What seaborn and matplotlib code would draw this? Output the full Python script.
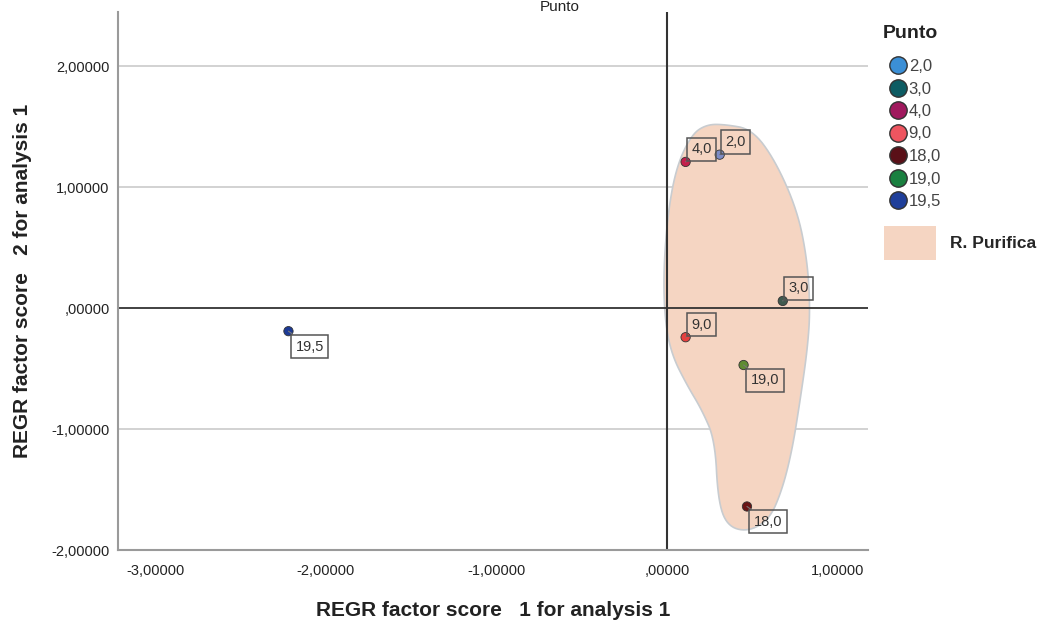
import numpy as np
import pandas as pd
import matplotlib
matplotlib.use("Agg")
import matplotlib.pyplot as plt
from matplotlib.lines import Line2D
from matplotlib.patches import Polygon, Patch
import seaborn as sns

# ---- data ----
labels = ["2,0", "3,0", "4,0", "9,0", "18,0", "19,0", "19,5"]
factor1 = [0.31, 0.68, 0.11, 0.11, 0.47, 0.45, -2.22]
factor2 = [1.27, 0.06, 1.21, -0.24, -1.64, -0.47, -0.19]
point_colors = ["#7d8cc6", "#3f5a4f", "#c4204c", "#e8403e", "#6a1414", "#5f8c32", "#1c3a96"]
legend_colors = ["#3b8fd6", "#0d5c63", "#a0195e", "#ee5560", "#5a1018", "#1a8040", "#1f3f9a"]
label_dir = ["ur", "ur", "ur", "ur", "dr", "dr", "dr"]
# region outline "R. Purifica" (data coords)
hull_x = [0.341, 0.50, 0.635, 0.765, 0.824, 0.841, 0.824, 0.782, 0.735, 0.676, 0.60, 0.471,
          0.353, 0.30, 0.282, 0.206, 0.118, 0.029, -0.012, -0.02, 0.008, 0.059, 0.147, 0.235]
hull_y = [1.52, 1.48, 1.223, 0.81, 0.397, -0.017, -0.347, -0.76, -1.174, -1.504, -1.752, -1.85,
          -1.80, -1.587, -1.091, -0.843, -0.636, -0.388, -0.099, 0.314, 0.81, 1.182, 1.44, 1.52]
xticks = [-3, -2, -1, 0, 1]
yticks = [-2, -1, 0, 1, 2]


def fmt(v):
    s = ("%.5f" % v).replace(".", ",")
    return s[1:] if s.startswith("0,") else s


df = pd.DataFrame({"f1": factor1, "f2": factor2, "Punto": labels})

sns.set_theme(style="white")
plt.rcParams["font.family"] = ["Liberation Sans", "DejaVu Sans"]

fig = plt.figure(figsize=(10.48, 6.23), dpi=100)
ax = fig.add_axes([118/1048, 73/623, 750/1048, 538/623])

ax.set_xlim(-3.22, 1.18)
ax.set_ylim(-2.0, 2.45)

# smooth hull (Chaikin)
pts = np.column_stack([hull_x, hull_y])
for _ in range(3):
    nxt = np.roll(pts, -1, axis=0)
    q = 0.75 * pts + 0.25 * nxt
    r = 0.25 * pts + 0.75 * nxt
    pts = np.empty((2 * len(q), 2))
    pts[0::2] = q
    pts[1::2] = r
ax.add_patch(Polygon(pts, closed=True, facecolor="#f5d5c2", edgecolor="#c8ccd0",
                     linewidth=1.2, zorder=1))

for yv in [-1, 1, 2]:
    ax.axhline(yv, color="#cfcfcf", linewidth=1.3, zorder=0.5)
ax.axhline(0, color="#333333", linewidth=1.3, zorder=2)
ax.axvline(0, color="#333333", linewidth=1.5, zorder=2)

sns.scatterplot(data=df, x="f1", y="f2", hue="Punto", palette=point_colors,
                s=45, edgecolor="#333333", linewidth=0.6, legend=False, ax=ax, zorder=4)

for x, y, lab, d in zip(factor1, factor2, labels, label_dir):
    if d == "ur":
        off, va = (4, 4), "bottom"
    else:
        off, va = (5, -6), "top"
    ax.annotate(lab, (x, y), xytext=off, textcoords="offset points", ha="left", va=va,
                fontsize=10.5, color="#333333", zorder=5,
                bbox=dict(boxstyle="square,pad=0.32", facecolor="none", edgecolor="#555555", linewidth=1.1),
                arrowprops=dict(arrowstyle="-", color="#777777", lw=0.8, shrinkA=0, shrinkB=0))

ax.set_xticks(xticks)
ax.set_yticks(yticks)
ax.set_xticklabels([fmt(v) for v in xticks])
ax.set_yticklabels([fmt(v) for v in yticks])
ax.tick_params(axis="both", length=0, labelsize=10.5, labelcolor="#222222")
ax.tick_params(axis="x", pad=10)
ax.tick_params(axis="y", pad=6)

for s in ["top", "right"]:
    ax.spines[s].set_visible(False)
for s in ["left", "bottom"]:
    ax.spines[s].set_color("#9a9a9a")
    ax.spines[s].set_linewidth(1.5)

ax.set_xlabel("REGR factor score   1 for analysis 1", fontsize=15, fontweight="bold",
              color="#222222", labelpad=17)
ax.set_ylabel("REGR factor score   2 for analysis 1", fontsize=15, fontweight="bold",
              color="#222222", labelpad=14)

fig.text(540/1048, 1.0, "Punto", fontsize=11, color="#222222", ha="left", va="top")

# legends
fig.text(883/1048, 1 - 34/623, "Punto", fontsize=14, fontweight="bold", color="#222222",
         ha="left", va="center")
handles = [Line2D([0], [0], marker="o", linestyle="none", markersize=12.5,
                  markerfacecolor=c, markeredgecolor="#333333", markeredgewidth=1.0)
           for c in legend_colors]
leg1 = fig.legend(handles, labels, loc="upper left",
                  bbox_to_anchor=(872/1048, 1 - 44/623), frameon=False,
                  handletextpad=0.0, labelspacing=0.45, handlelength=1.3,
                  fontsize=12)
for t in leg1.get_texts():
    t.set_color("#444444")

leg2 = fig.legend([Patch(facecolor="#f5d5c2", edgecolor="none")], ["R. Purifica"],
                  loc="upper left", bbox_to_anchor=(868/1048, 1 - 210/623), frameon=False,
                  handlelength=3.0, handleheight=2.7, handletextpad=0.8,
                  prop={"weight": "bold", "size": 12.5})

fig.savefig("out.png", dpi=100)
